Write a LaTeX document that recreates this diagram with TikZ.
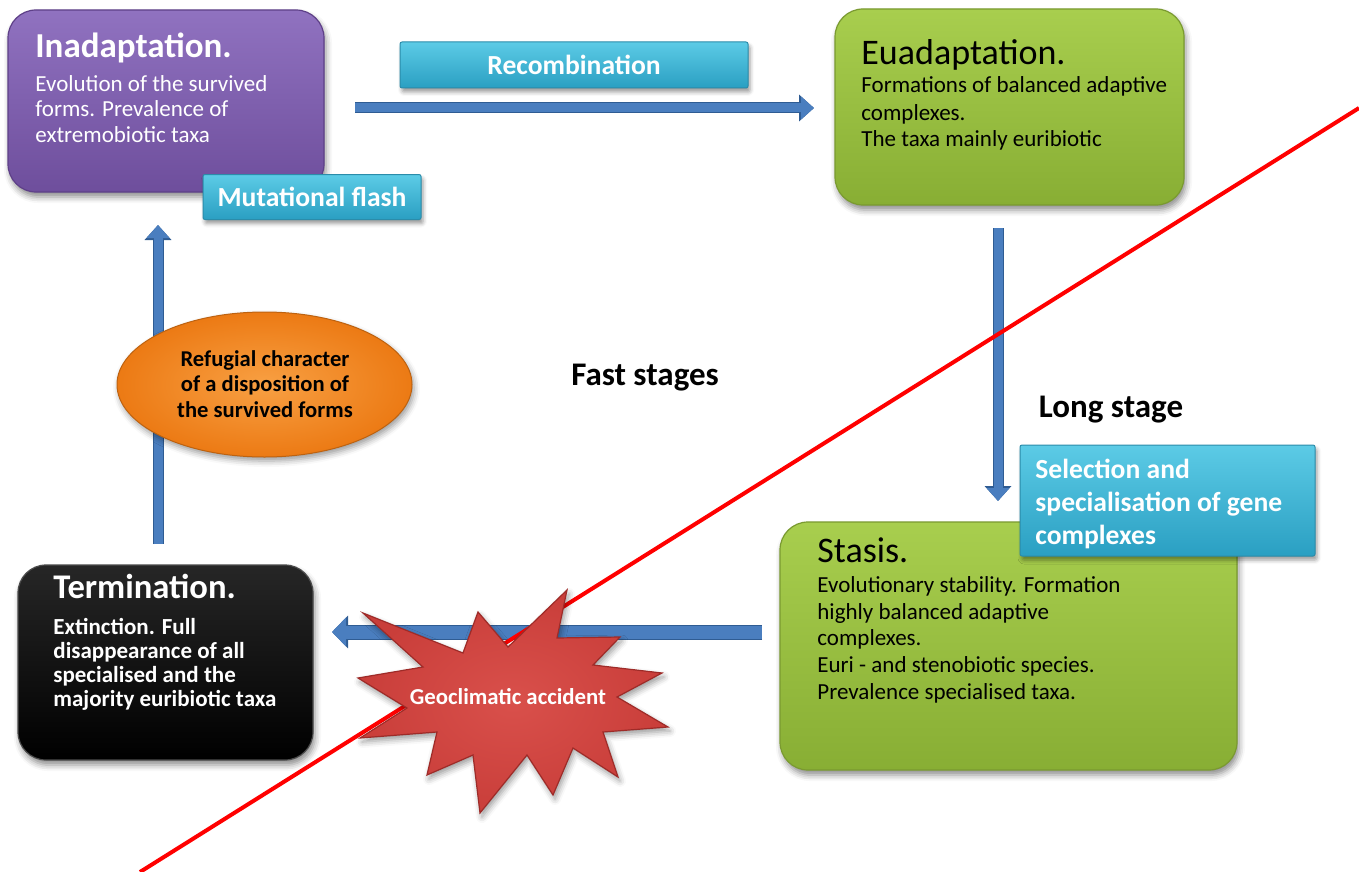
\documentclass[tikz,border=0pt]{standalone}
\usepackage{fontspec}
\setmainfont{Carlito}
\usetikzlibrary{arrows.meta,shapes.geometric,shadows.blur}

\definecolor{purT}{HTML}{9072C0}
\definecolor{purB}{HTML}{6E4E9C}
\definecolor{purD}{HTML}{5E4088}
\definecolor{grnT}{HTML}{A8CE4E}
\definecolor{grnB}{HTML}{88AE34}
\definecolor{grnD}{HTML}{7A9A30}
\definecolor{cyT}{HTML}{5CCBE6}
\definecolor{cyB}{HTML}{2A9FC2}
\definecolor{cyD}{HTML}{2B8CAA}
\definecolor{arrBlue}{HTML}{4A7EBF}
\definecolor{arrEdge}{HTML}{2F5C93}
\definecolor{orgIn}{HTML}{F8A043}
\definecolor{orgOut}{HTML}{EC7A14}
\definecolor{starIn}{HTML}{D9504B}
\definecolor{starOut}{HTML}{C93E3A}
\definecolor{starD}{HTML}{9E2B28}
\definecolor{cutRed}{HTML}{FF0000}

\newcommand\titlefont{\fontsize{17.5}{20}\selectfont}
\newcommand\bodyfont{\fontsize{11.5}{13}\selectfont}
\newcommand\tagfont{\fontsize{13.8}{15}\selectfont\bfseries}

\begin{document}
\begin{tikzpicture}[x=0.5pt,y=-0.5pt,
  stage/.style={rectangle, rounded corners=14pt, line width=0.6pt,
    blur shadow={shadow xshift=1pt, shadow yshift=-2.5pt, shadow blur radius=3pt, shadow opacity=45}},
  tag/.style={rectangle, rounded corners=1pt, top color=cyT, bottom color=cyB, draw=cyD,
    line width=0.5pt, text=white, font=\tagfont,
    blur shadow={shadow xshift=1pt, shadow yshift=-2pt, shadow blur radius=2pt, shadow opacity=40}},
  ln/.style={anchor=base west, inner sep=0pt},
  flow/.style={line width=4.5pt, draw=arrBlue, -{Triangle[width=11pt,length=6.5pt]},
    preaction={draw=arrEdge, line width=5.5pt, -{Triangle[width=13pt,length=7.5pt]}}},
  flowwide/.style={line width=6.5pt, draw=arrBlue, -{Triangle[width=14pt,length=7pt]},
    preaction={draw=arrEdge, line width=7.5pt, -{Triangle[width=16pt,length=8pt]}}},
]
\useasboundingbox (0,0) rectangle (1359,872);

% ---- stage boxes ----
\node[stage, top color=purT, bottom color=purB, draw=purD,
  minimum width=158pt, minimum height=91pt] (inad) at (166,101) {};
\node[stage, top color=grnT, bottom color=grnB, draw=grnD,
  minimum width=174.5pt, minimum height=98pt] (euad) at (1009.5,107) {};
\node[stage, top color=grnT, bottom color=grnB, draw=grnD,
  minimum width=228.5pt, minimum height=124pt] (stas) at (1008.5,646) {};
\node[stage, top color=black!85, bottom color=black, draw=black!70,
  minimum width=147.5pt, minimum height=97.5pt] (term) at (165.5,662.5) {};

% ---- labels on cyan bars ----
\node[tag, minimum width=174pt, minimum height=23pt] (recomb) at (574,65) {Recombination};
\node[tag, minimum width=109pt, minimum height=22.5pt] (mutflash) at (312,197) {Mutational flash};
\node[tag, minimum width=147.5pt, minimum height=55.5pt] (selbox) at (1167.5,500.5) {};

% ---- arrows of the cycle ----
\coordinate (rA) at (355,108);  \coordinate (rB) at (814,108);
\coordinate (dA) at (998,228);  \coordinate (dB) at (998,501);
\coordinate (lA) at (762,632);  \coordinate (lB) at (332,632);
\coordinate (uA) at (158,544);  \coordinate (uB) at (158,225);
\draw[flow] (rA) -- (rB);
\draw[flow] (dA) -- (dB);
\draw[flowwide] (lA) -- (lB);
\draw[flow] (uA) -- (uB);

% ---- refugium ellipse ----
\node[ellipse, minimum width=147.5pt, minimum height=72.5pt, inner color=orgIn,
  outer color=orgOut, draw=orgOut!80!black, line width=0.5pt,
  blur shadow={shadow xshift=1pt, shadow yshift=-2pt, shadow blur radius=3pt, shadow opacity=40}]
  (refug) at (264.5,384.5) {};
\node[align=center, font=\fontsize{11.3}{12.6}\selectfont\bfseries] (refugT) at (265,384)
  {Refugial character\\of a disposition of\\the survived forms};

% ---- boundary between fast and long stages ----
\coordinate (cutA) at (140,872);
\coordinate (cutB) at (1359,108);
\draw[cutRed, line width=2pt] (cutA) -- (cutB);

% ---- explosion ----
\draw[inner color=starIn, outer color=starOut, draw=starD, line width=0.6pt,
  blur shadow={shadow xshift=1pt, shadow yshift=-2pt, shadow blur radius=3pt, shadow opacity=40}]
  (363,613) -- (463,653) -- (478,612) -- (508,647) -- (567,590) -- (557,638)
  -- (620,637) -- (593,665) -- (662,673) -- (617,697) -- (668,727) -- (603,732)
  -- (618,777) -- (573,748) -- (553,795) -- (527,755) -- (480,813) -- (473,755)
  -- (427,775) -- (437,732) -- (360,738) -- (407,708) -- (358,678) -- (423,667) -- cycle;
\node[text=white, font=\fontsize{11.4}{13}\selectfont\bfseries] (geo) at (508,697) {Geoclimatic accident};

% ---- texts of the stages ----
\node[ln, text=white, font=\titlefont\bfseries] (inadT) at (35,58) {Inadaptation.};
\node[ln, text=white, font=\bodyfont] (inad1) at (35,92) {Evolution of the survived};
\node[ln, text=white, font=\bodyfont] (inad2) at (35,117) {forms. Prevalence of};
\node[ln, text=white, font=\bodyfont] (inad3) at (35,142) {extremobiotic taxa};

\node[ln, font=\fontsize{18}{20}\selectfont] (euadT) at (861,65) {Euadaptation.};
\node[ln, font=\bodyfont] (euad1) at (861,93) {Formations of balanced adaptive};
\node[ln, font=\bodyfont] (euad2) at (861,120) {complexes.};
\node[ln, font=\bodyfont] (euad3) at (861,147) {The taxa mainly euribiotic};

\node[ln, font=\fontsize{18}{20}\selectfont] (stasT) at (817,562) {Stasis.};
\node[ln, font=\bodyfont] (stas1) at (817,592) {Evolutionary stability. Formation};
\node[ln, font=\bodyfont] (stas2) at (817,619) {highly balanced adaptive};
\node[ln, font=\bodyfont] (stas3) at (817,645) {complexes.};
\node[ln, font=\bodyfont] (stas4) at (817,672) {Euri - and stenobiotic species.};
\node[ln, font=\bodyfont] (stas5) at (817,699) {Prevalence specialised taxa.};

\node[ln, text=white, font=\fontsize{17.3}{20}\selectfont\bfseries] (termT) at (53,598) {Termination.};
\node[ln, text=white, font=\bodyfont\bfseries] (term1) at (53,634) {Extinction. Full};
\node[ln, text=white, font=\bodyfont\bfseries] (term2) at (53,658) {disappearance of all};
\node[ln, text=white, font=\bodyfont\bfseries] (term3) at (53,682) {specialised and the};
\node[ln, text=white, font=\bodyfont\bfseries] (term4) at (53,706) {majority euribiotic taxa};

\node[ln, text=white, font=\tagfont] (sel1) at (1035,478) {Selection and};
\node[ln, text=white, font=\tagfont] (sel2) at (1035,511) {specialisation of gene};
\node[ln, text=white, font=\tagfont] (sel3) at (1035,544) {complexes};

% ---- stage group captions ----
\node[font=\fontsize{16.5}{18}\selectfont\bfseries] (fast) at (645,378) {Fast stages};
\node[font=\fontsize{16.5}{18}\selectfont\bfseries] (long) at (1111,410) {Long stage};
\end{tikzpicture}
\end{document}
